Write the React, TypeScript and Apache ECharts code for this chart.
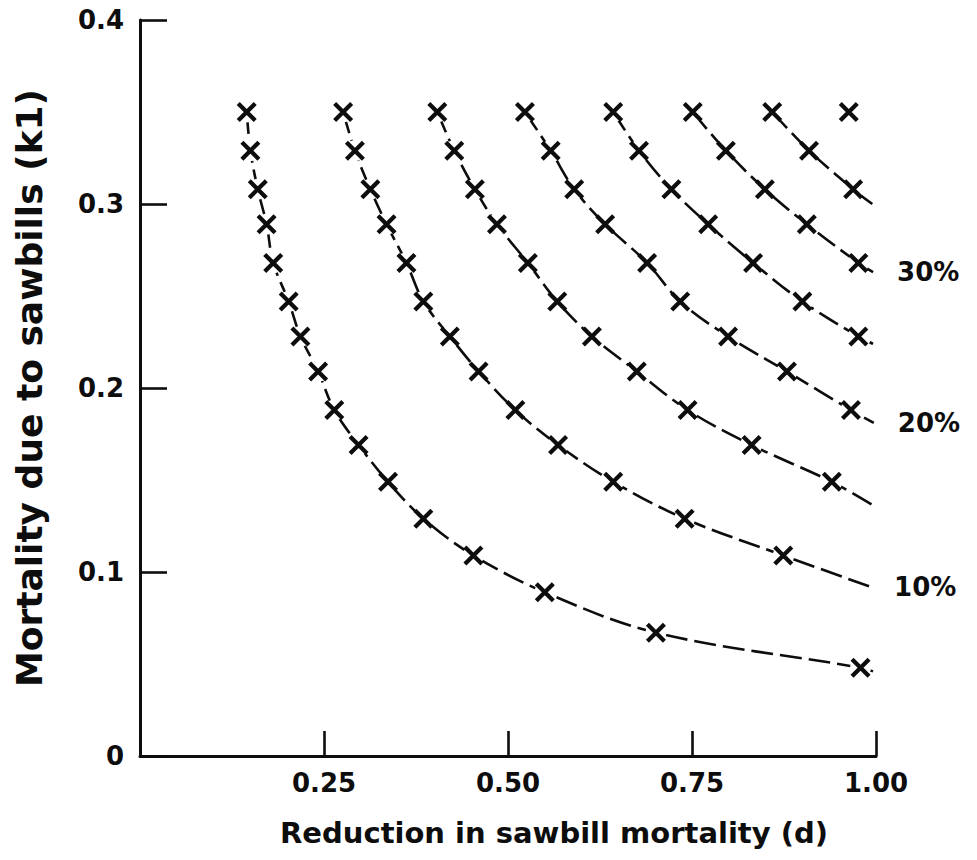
import React, { useEffect, useRef } from "react";
import * as echarts from "echarts";

// k1 levels (rows) at which the crosses are plotted, top to bottom
const k1Rows = [0.35, 0.329, 0.308, 0.289, 0.268, 0.247, 0.228, 0.209, 0.188, 0.169, 0.149, 0.129, 0.109, 0.089, 0.067, 0.048];

// d value of each cross, per contour (5% ... 40%), following k1Rows from the top
const d05 = [0.145, 0.15, 0.16, 0.172, 0.181, 0.202, 0.218, 0.242, 0.264, 0.297, 0.337, 0.385, 0.453, 0.55, 0.701, 0.979];
const d10 = [0.276, 0.292, 0.313, 0.335, 0.362, 0.385, 0.421, 0.46, 0.51, 0.568, 0.643, 0.74, 0.874];
const d15 = [0.404, 0.427, 0.455, 0.485, 0.527, 0.567, 0.614, 0.675, 0.744, 0.831, 0.94];
const d20 = [0.523, 0.558, 0.59, 0.632, 0.689, 0.734, 0.799, 0.879, 0.966];
const d25 = [0.643, 0.678, 0.722, 0.772, 0.833, 0.9, 0.976];
const d30 = [0.751, 0.796, 0.849, 0.906, 0.976];
const d35 = [0.859, 0.909, 0.969];
const d40 = [0.963];

// where each drawn curve ends (past its last cross), [d, k1]
const curveEnds: (number[] | null)[] = [
  [0.996, 0.046],
  [0.992, 0.092],
  [0.997, 0.136],
  [0.997, 0.181],
  [0.996, 0.224],
  [0.996, 0.263],
  [0.995, 0.3],
  null,
];

const curves = [d05, d10, d15, d20, d25, d30, d35, d40];
const curveNames = ["5%", "10%", "15%", "20%", "25%", "30%", "35%", "40%"];
const shownLabels = ["", "10%", "", "20%", "", "30%", "", ""];

const xTicks = [0, 0.25, 0.5, 0.75, 1.0];
const yTicks = [0, 0.1, 0.2, 0.3, 0.4];

const FONT = "'DejaVu Sans', 'Liberation Sans', Arial, sans-serif";
const INK = "#0d0d0d";

// filled "X" marker (two crossed bars)
const CROSS =
  "path://M3.414,0.586L19.414,16.586L16.586,19.414L0.586,3.414ZM19.414,3.414L3.414,19.414L0.586,16.586L16.586,0.586Z";

export default function App() {
  const ref = useRef<HTMLDivElement>(null);

  useEffect(() => {
    if (!ref.current) return;
    const chart = echarts.init(ref.current, undefined, { renderer: "svg" });

    const lineSeries: any[] = curves.map((ds, i) => {
      const data: any[] = ds.map((d, j) => [d, k1Rows[j]]);
      const end = curveEnds[i];
      if (end) data.push({ value: end, symbol: "none" });
      return {
        type: "line",
        name: curveNames[i],
        data,
        smooth: 0.35,
        symbol: "circle",
        symbolSize: 21,
        showSymbol: true,
        itemStyle: { color: "#fff", borderWidth: 0, opacity: 1 },
        lineStyle: { color: INK, width: 2.6, type: [22, 7] },
        z: 2,
        silent: true,
        endLabel: shownLabels[i]
          ? {
              show: true,
              formatter: shownLabels[i],
              distance: 24,
              fontSize: 26,
              fontFamily: FONT,
              fontWeight: "bold",
              color: INK,
            }
          : { show: false },
      };
    });

    const crossData: number[][] = [];
    curves.forEach((ds) => ds.forEach((d, j) => crossData.push([d, k1Rows[j]])));

    const option: any = {
      animation: false,
      backgroundColor: "#fff",
      grid: { left: 140, right: 101, top: 20, bottom: 104, containLabel: false },
      xAxis: {
        type: "value",
        min: xTicks[0],
        max: xTicks[xTicks.length - 1],
        interval: 0.25,
        name: "Reduction in sawbill mortality (d)",
        nameLocation: "middle",
        nameGap: 62,
        nameTextStyle: {
          fontSize: 29,
          fontFamily: FONT,
          fontWeight: "bold",
          color: INK,
          padding: [0, 0, 0, 92],
        },
        axisLine: { lineStyle: { color: INK, width: 3 } },
        axisTick: { inside: true, length: 25, lineStyle: { color: INK, width: 2.6 } },
        axisLabel: {
          fontSize: 26,
          fontFamily: FONT,
          fontWeight: "bold",
          color: INK,
          margin: 14,
          formatter: (v: number) => (v === 0 ? "" : v.toFixed(2)),
        },
        splitLine: { show: false },
      },
      yAxis: {
        type: "value",
        min: yTicks[0],
        max: yTicks[yTicks.length - 1],
        interval: 0.1,
        name: "Mortality due to sawbills (k1)",
        nameLocation: "middle",
        nameGap: 93,
        nameRotate: 90,
        nameTextStyle: { fontSize: 36, fontFamily: FONT, fontWeight: "bold", color: INK },
        axisLine: { lineStyle: { color: INK, width: 3 } },
        axisTick: { inside: true, length: 27, lineStyle: { color: INK, width: 2.6 } },
        axisLabel: {
          fontSize: 26,
          fontFamily: FONT,
          fontWeight: "bold",
          color: INK,
          margin: 16,
          formatter: (v: number) => (v === 0 ? "0" : v.toFixed(1)),
        },
        splitLine: { show: false },
      },
      series: [
        ...lineSeries,
        {
          type: "scatter",
          name: "crosses",
          data: crossData,
          symbol: CROSS,
          symbolSize: 20,
          itemStyle: { color: INK, opacity: 1, borderWidth: 0 },
          z: 5,
          silent: true,
        },
      ],
    };

    chart.setOption(option);
    return () => chart.dispose();
  }, []);

  return <div ref={ref} style={{ width: 977, height: 860, margin: -8 }} />;
}
